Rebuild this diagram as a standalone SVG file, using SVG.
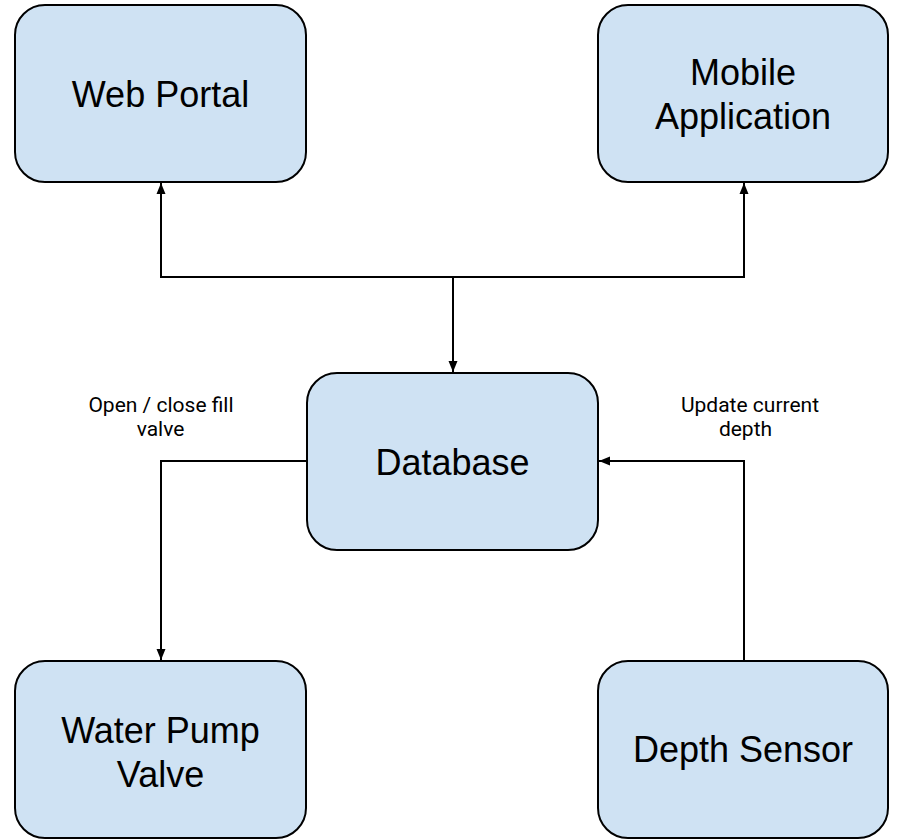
<svg xmlns="http://www.w3.org/2000/svg" width="897" height="840" viewBox="0 0 897 840">
<style>
.box{fill:#cfe2f3;stroke:#000;stroke-width:2}
.big{font-family:"Liberation Sans",Arial,sans-serif;font-size:36px;fill:#000;text-anchor:middle}
.lbl{font-family:Roboto,"Noto Sans",sans-serif;font-size:21px;fill:#000;text-anchor:middle}
.conn{fill:none;stroke:#000;stroke-width:2}
</style>
<defs>
<marker id="ah" markerUnits="userSpaceOnUse" markerWidth="12" markerHeight="10" refX="11" refY="5" orient="auto-start-reverse">
<path d="M0,0.5 L11,5 L0,9.5 Z" fill="#000"/>
</marker>
</defs>
<rect width="897" height="840" fill="#fff"/>
<g id="connectors">
<path class="conn" d="M161,183 V277 H744 V183" marker-start="url(#ah)" marker-end="url(#ah)"/>
<path class="conn" d="M453,277 V372" marker-end="url(#ah)"/>
<path class="conn" d="M307,461 H161 V660" marker-end="url(#ah)"/>
<path class="conn" d="M744,661 V461 H599" marker-end="url(#ah)"/>
<text class="lbl" x="161" y="412">Open / close fill</text>
<text class="lbl" x="160.5" y="436">valve</text>
<text class="lbl" x="750" y="412">Update current</text>
<text class="lbl" x="745.5" y="436">depth</text>
</g>
<g id="web-portal">
<rect class="box" x="15" y="5" width="291" height="177" rx="30" ry="30"/>
<text class="big" x="160.5" y="107">Web Portal</text>
</g>
<g id="mobile-application">
<rect class="box" x="598" y="5" width="290" height="177" rx="30" ry="30"/>
<text class="big" x="743" y="85">Mobile</text>
<text class="big" x="743" y="129">Application</text>
</g>
<g id="database">
<rect class="box" x="307" y="373" width="291" height="177" rx="30" ry="30"/>
<text class="big" x="452.5" y="475">Database</text>
</g>
<g id="water-pump-valve">
<rect class="box" x="15" y="661" width="291" height="177" rx="30" ry="30"/>
<text class="big" x="160.5" y="743">Water Pump</text>
<text class="big" x="160.5" y="786.5">Valve</text>
</g>
<g id="depth-sensor">
<rect class="box" x="598" y="661" width="290" height="177" rx="30" ry="30"/>
<text class="big" x="743" y="762">Depth Sensor</text>
</g>
</svg>
